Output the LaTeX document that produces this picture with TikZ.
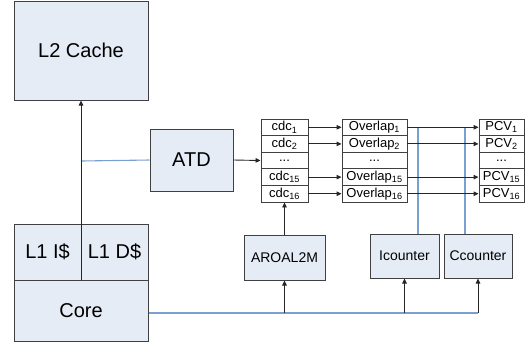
\documentclass[tikz,border=0pt]{standalone}
\usepackage{fontspec}
\setmainfont{Liberation Sans}
\usetikzlibrary{arrows.meta, calc}
\definecolor{boxfill}{HTML}{E6ECF6}
\definecolor{linkblue}{HTML}{7A9FD2}
\definecolor{edge}{HTML}{404040}

\tikzset{
  unit/.style={draw=edge, line width=1pt, fill=boxfill, inner sep=0pt, font=\fontsize{20}{24}\selectfont},
  smallunit/.style={unit, font=\fontsize{14}{16}\selectfont},
  cell/.style={draw=edge, line width=0.9pt, fill=white, inner sep=0pt, minimum height=16.6pt, font=\fontsize{13}{14}\selectfont},
  flow/.style={draw=black!85, line width=0.9pt, -{Triangle[length=5pt,width=4.5pt]}},
  link/.style={draw=linkblue, line width=1.1pt}
}

\begin{document}
\begin{tikzpicture}[x=1pt, y=-1pt]
\useasboundingbox (0,0) rectangle (532,349);
% Cache hierarchy
\node[unit, minimum width=134pt, minimum height=99pt] (l2) at (81,50.5) {L2 Cache};
\node[unit, minimum width=67pt, minimum height=56pt] (l1i) at (47.5,252) {L1 I\$};
\node[unit, minimum width=67pt, minimum height=56pt] (l1d) at (114.5,252) {L1 D\$};
\node[unit, minimum width=134pt, minimum height=61pt] (core) at (81,310.5) {Core};
\node[unit, minimum width=83pt, minimum height=62pt] (atd) at (191.5,160) {ATD};
% Lower units
\node[smallunit, minimum width=81pt, minimum height=45pt] (aroal) at (284.5,257.5) {AROAL2M};
\node[smallunit, minimum width=69pt, minimum height=44pt] (icnt) at (404.5,256) {Icounter};
\node[smallunit, minimum width=68pt, minimum height=44pt] (ccnt) at (478,256) {Ccounter};
% Register stacks
\foreach \i/\s in {1/1, 2/2, 4/15, 5/16} {
  \node[cell, minimum width=47pt] (cdc\i) at (284.5,{119+16.6*(\i-0.5)}) {cdc\textsubscript{\s}};
  \node[cell, minimum width=65pt] (ov\i) at (374.5,{119+16.6*(\i-0.5)}) {Overlap\textsubscript{\s}};
  \node[cell, minimum width=45pt] (pcv\i) at (501.5,{119+16.6*(\i-0.5)}) {PCV\textsubscript{\s}};
}
\node[cell, minimum width=47pt] (cdc3) at (284.5,160.5) {...};
\node[cell, minimum width=65pt] (ov3) at (374.5,160.5) {...};
\node[cell, minimum width=45pt] (pcv3) at (501.5,160.5) {...};
% Blue links
\coordinate (tap) at (81,161);
\draw[link] (tap) -- (atd.west);
\coordinate (busend) at (478,313);
\draw[link] (core.east |- busend) -- (busend);
\coordinate (itap) at (418,127.3);
\coordinate (ctap) at (465,127.3);
\draw[link] (itap) -- (itap |- icnt.north);
\draw[link] (ctap) -- (ctap |- ccnt.north);
% Data flow
\draw[flow] (core.north) -- (l2.south);
\draw[flow] (atd.east) -- (cdc3.west);
\foreach \i in {1,2,4,5} {
  \draw[flow] (cdc\i.east) -- (ov\i.west);
  \draw[flow] (ov\i.east) -- (pcv\i.west);
}
\draw[flow] (aroal.north) -- (cdc5.south);
\draw[flow] (aroal.south |- busend) -- (aroal.south);
\draw[flow] (icnt.south |- busend) -- (icnt.south);
\draw[flow] (busend) -- (ccnt.south);
\end{tikzpicture}
\end{document}
